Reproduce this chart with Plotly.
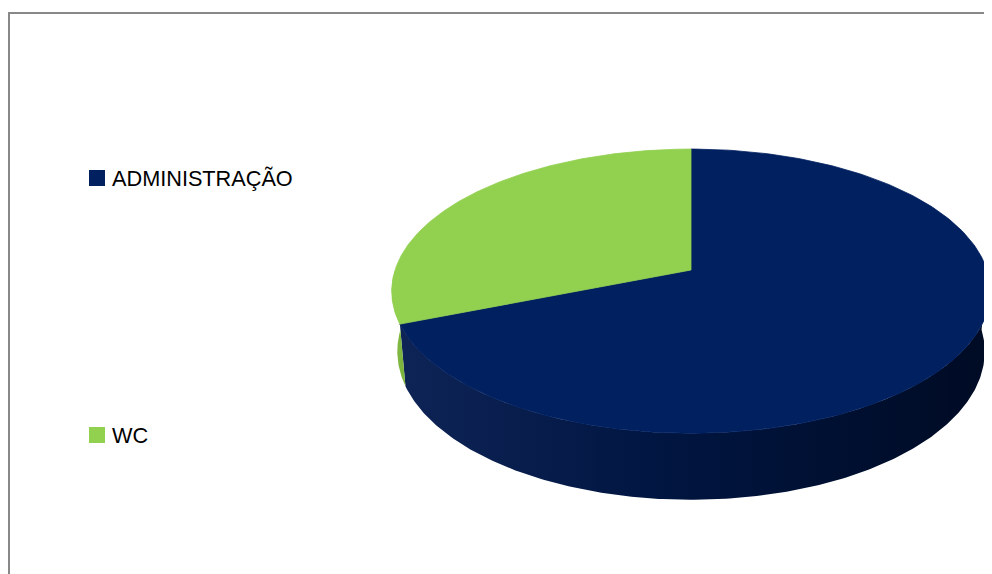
import numpy as np
import plotly.graph_objects as go

# ---- data ----
categories = ["ADMINISTRAÇÃO", "WC"]
values = [69, 31]
top_colors = ["#002060", "#92D050"]
side_scales = [
    [[0, "#0E2456"], [0.45, "#001540"], [1, "#000B24"]],
    [[0, "#84BE45"], [1, "#7AB23C"]],
]

# ---- geometry of the 3-D pie (pixel space of the window) ----
W, Hpx = 992, 574
OFF = 8  # page body margin
CX, CY = 691, 270
F, D = 1755.0, 5.93
ELEV = np.radians(28)
DEPTH = 0.233


def project(X, Y, Z):
    yv = Y * np.cos(ELEV) + Z * np.sin(ELEV)
    dv = Z * np.cos(ELEV) - Y * np.sin(ELEV)
    w = D + dv
    return CX + F * X / w, CY - F * yv / w


def arc(a, b, Y, n=240):
    t = np.radians(np.linspace(a, b, n))
    return project(np.cos(t), np.full_like(t, Y), np.sin(t))


fig = go.Figure()

total = float(sum(values))
start = 90.0
slices = []
for v in values:
    sweep = 360.0 * v / total
    slices.append((start - sweep, start))
    start -= sweep

# sides (front half: -180..0 degrees)
for i, (lo, hi) in enumerate(slices):
    for k in (-360, 0, 360):
        a = max(lo + k, -180.0)
        b = min(hi + k, 0.0)
        if b > a:
            tx, ty = arc(a, b, 0.0)
            bx, by = arc(b, a, -DEPTH)
            xs = np.concatenate([tx, bx, tx[:1]])
            ys = np.concatenate([ty, by, ty[:1]])
            fig.add_trace(go.Scatter(
                x=xs, y=ys, mode="lines", fill="toself",
                fillgradient=dict(type="horizontal", colorscale=side_scales[i]),
                line=dict(width=0), hoverinfo="skip", showlegend=False))

# top faces
for i, (lo, hi) in enumerate(slices):
    ax, ay = arc(hi, lo, 0.0)
    cx0, cy0 = project(0.0, 0.0, 0.0)
    xs = np.concatenate([[cx0], ax, [cx0]])
    ys = np.concatenate([[cy0], ay, [cy0]])
    fig.add_trace(go.Scatter(
        x=xs, y=ys, mode="lines", fill="toself", fillcolor=top_colors[i],
        line=dict(width=0.8, color=top_colors[i]),
        name=categories[i], hoverinfo="name", showlegend=False))

# legend (manual, left side)
legend_y = [178, 435]
for i, cat in enumerate(categories):
    fig.add_trace(go.Scatter(
        x=[97], y=[legend_y[i]], mode="markers",
        marker=dict(symbol="square", size=16, color=top_colors[i],
                    line=dict(width=0)),
        hoverinfo="skip", showlegend=False))
    fig.add_annotation(
        x=110, y=legend_y[i], xref="x", yref="y", text=cat,
        showarrow=False, xanchor="left", yanchor="middle",
        font=dict(family="Liberation Sans", size=21.7, color="#000000"))

# chart border
fig.add_shape(type="rect", x0=9, y0=13, x1=1020, y1=620, xref="x", yref="y",
              line=dict(color="#888888", width=2), fillcolor="rgba(0,0,0,0)",
              layer="above")

fig.update_layout(
    width=W, height=Hpx,
    margin=dict(l=0, r=0, t=0, b=0),
    paper_bgcolor="white", plot_bgcolor="white",
    xaxis=dict(range=[OFF, W + OFF], visible=False, fixedrange=True),
    yaxis=dict(range=[Hpx + OFF, OFF], visible=False, fixedrange=True),
    showlegend=False,
)

fig.write_html("out.html")
